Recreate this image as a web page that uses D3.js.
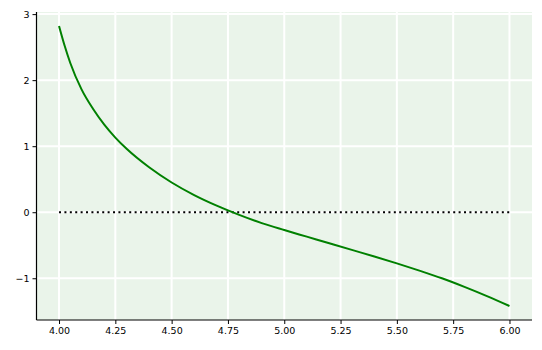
<!DOCTYPE html>
<html>
<head>
<meta charset="utf-8">
<script src="https://cdn.jsdelivr.net/npm/d3@7"></script>
<style>
  body { margin: 0; background: #fff; }
  svg { display: block; }
  .tick text { font-family: "DejaVu Sans", sans-serif; font-size: 9.5px; fill: #000; }
</style>
</head>
<body>
<svg id="chart" width="542" height="350"></svg>
<script>
// values
const xs = [4.0, 4.025, 4.05, 4.1, 4.15, 4.2, 4.25, 4.3, 4.4, 4.5, 4.6, 4.7, 4.8, 4.9,
            5.0, 5.1, 5.2, 5.3, 5.4, 5.5, 5.6, 5.7, 5.8, 5.9, 6.0]
const ys = [2.82, 2.52, 2.26, 1.86, 1.57, 1.33, 1.13, 0.96, 0.68, 0.45, 0.26, 0.10, -0.04, -0.165,
            -0.27, -0.37, -0.47, -0.57, -0.67, -0.775, -0.885, -1.0, -1.13, -1.27, -1.42]
const zeroX = [4.0, 6.0]
const zeroY = [0, 0]
const xTicks = [4.0, 4.25, 4.5, 4.75, 5.0, 5.25, 5.5, 5.75, 6.0]
const yTicks = [-1, 0, 1, 2, 3]

const width = 542, height = 350
const margin = { top: 12, right: 10, bottom: 30, left: 36.5 }

const svg = d3.select('#chart')

const x = d3.scaleLinear()
    .domain([3.9, 6.1])
    .range([margin.left, width - margin.right])

const y = d3.scaleLinear()
    .domain([-1.632, 3.032])
    .range([height - margin.bottom, margin.top])

// plot background
svg.append('rect')
    .attr('x', margin.left)
    .attr('y', margin.top)
    .attr('width', width - margin.right - margin.left)
    .attr('height', height - margin.bottom - margin.top)
    .attr('fill', '#eaf4ea')

// grid
svg.append('g').selectAll('line')
    .data(xTicks)
    .join('line')
    .attr('x1', d => x(d)).attr('x2', d => x(d))
    .attr('y1', margin.top).attr('y2', height - margin.bottom)
    .attr('stroke', '#fff').attr('stroke-width', 2)

svg.append('g').selectAll('line')
    .data(yTicks)
    .join('line')
    .attr('x1', margin.left).attr('x2', width - margin.right)
    .attr('y1', d => y(d)).attr('y2', d => y(d))
    .attr('stroke', '#fff').attr('stroke-width', 2)

// zero reference line
const line = d3.line()
    .x(d => x(d[0]))
    .y(d => y(d[1]))

svg.append('path')
    .datum(d3.zip(zeroX, zeroY))
    .attr('d', line)
    .attr('fill', 'none')
    .attr('stroke', '#000')
    .attr('stroke-width', 2)
    .attr('stroke-dasharray', '2,3.4')

// curve
svg.append('path')
    .datum(d3.zip(xs, ys))
    .attr('d', line.curve(d3.curveMonotoneX))
    .attr('fill', 'none')
    .attr('stroke', 'green')
    .attr('stroke-width', 2)

// axes
const fmtMinus = d => d3.format('')(d).replace('-', '\u2212')

svg.append('g')
    .attr('transform', `translate(0,${height - margin.bottom})`)
    .call(d3.axisBottom(x).tickValues(xTicks).tickFormat(d3.format('.2f')).tickSize(4).tickPadding(3))
    .call(g => g.select('.domain').attr('d', `M${margin.left},0H${width - margin.right}`))

svg.append('g')
    .attr('transform', `translate(${margin.left},0)`)
    .call(d3.axisLeft(y).tickValues(yTicks).tickFormat(fmtMinus).tickSize(4).tickPadding(3))
    .call(g => g.select('.domain').attr('d', `M0,${margin.top}V${height - margin.bottom}`))

svg.selectAll('.domain').attr('stroke', '#000').attr('stroke-width', 1.2)
</script>
</body>
</html>
